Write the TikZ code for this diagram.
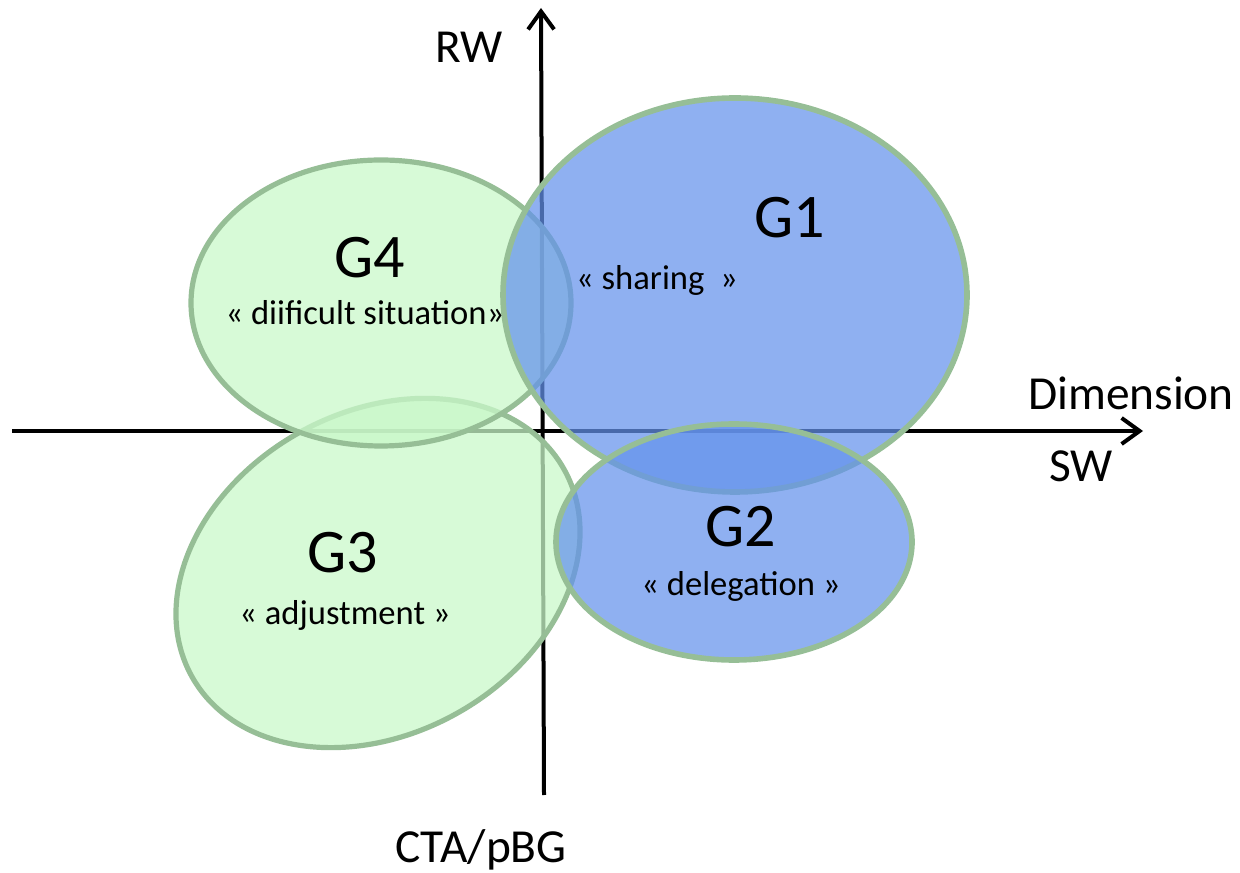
\documentclass[tikz,border=0pt]{standalone}
\usepackage{fontspec}
\setmainfont{Carlito}
\usetikzlibrary{arrows.meta}
\definecolor{gfill}{RGB}{201,248,201}
\definecolor{bfill}{RGB}{100,146,236}
\definecolor{rim}{RGB}{150,190,150}
\tikzset{
  axis/.style={line width=2pt,-{Straight Barb[length=9pt,width=13pt,line width=2pt]}},
  axlabel/.style={font=\fontsize{23.7}{26}\selectfont},
  glabel/.style={font=\fontsize{31}{34}\selectfont},
  sublabel/.style={font=\fontsize{17.3}{20}\selectfont},
  greenell/.style={fill=gfill,fill opacity=0.75,draw=rim,line width=2.6pt},
  blueell/.style={fill=bfill,fill opacity=0.72,draw=rim,line width=2.8pt}
}
\begin{document}
\begin{tikzpicture}[x=0.5pt,y=0.5pt]
\useasboundingbox (0,0) rectangle (1240,872);
% axes
\coordinate (vb) at (544,77);
\coordinate (vt) at (541,864);
\coordinate (hl) at (12,441);
\coordinate (hr) at (1143,441);
\draw[axis] (vb) -- (vt);
\draw[axis] (hl) -- (hr);
% ellipses
\draw[greenell,rotate around={29:(378,299)}] (378,299) ellipse [x radius=213,y radius=161];
\draw[greenell] (381,569) ellipse [x radius=190,y radius=143];
\draw[blueell] (735,577) ellipse [x radius=232,y radius=197];
\draw[blueell] (734,330) ellipse [x radius=178,y radius=118];
% axis labels
\node[axlabel] (rw) at (469,825) {RW};
\node[axlabel] (dim) at (1131,479) {Dimension};
\node[axlabel] (sw) at (1081,406) {SW};
\node[axlabel] (cta) at (481,22) {CTA/pBG};
% group labels
\node[glabel] (g4) at (370,614) {G4};
\node[glabel] (g1) at (790,654) {G1};
\node[glabel] (g3) at (343,319) {G3};
\node[glabel] (g2) at (741,345) {G2};
\node[sublabel] (s4) at (365,559) {« diificult situation»};
\node[sublabel] (s1) at (657,592) {« sharing~~»};
\node[sublabel] (s3) at (345,257) {« adjustment »};
\node[sublabel] (s2) at (741,286) {« delegation »};
\end{tikzpicture}
\end{document}
